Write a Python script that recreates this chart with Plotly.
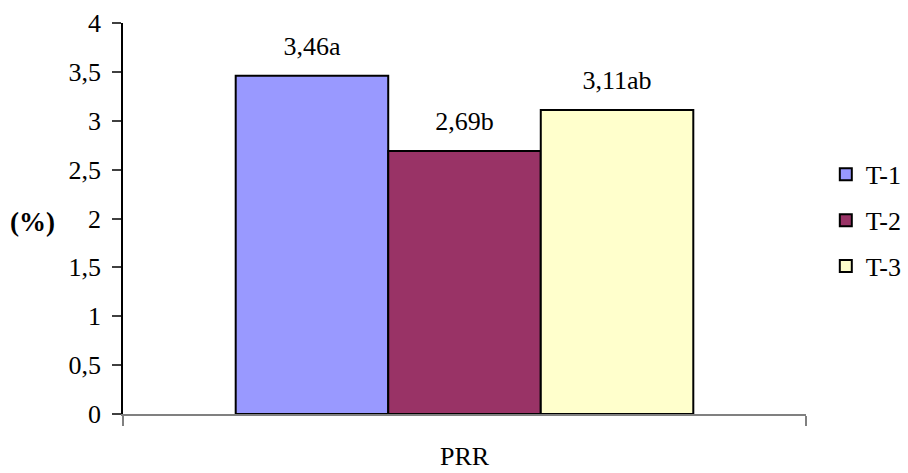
import plotly.graph_objects as go

# Data
category = ["PRR"]
treatments = ["T-1", "T-2", "T-3"]
values = [3.46, 2.69, 3.11]
letters = ["a", "b", "ab"]
colors = ["#9999FF", "#993366", "#FFFFCC"]

y_ticks = [0, 0.5, 1, 1.5, 2, 2.5, 3, 3.5, 4]

FONT = "Liberation Serif, Times New Roman, serif"
SIZE = 26

fig = go.Figure()
for name, val, col in zip(treatments, values, colors):
    fig.add_trace(go.Bar(
        x=category, y=[val], name=name,
        marker=dict(color=col, line=dict(color="black", width=2)),
        offsetgroup=name, legendgroup=name,
    ))

# value labels, grouped the same way as the bars and lifted above each top
for name, val, let in zip(treatments, values, letters):
    label = f"{val:.2f}".replace(".", ",") + let
    fig.add_trace(go.Scatter(
        x=category, y=[val], mode="markers+text", text=[label],
        textposition="top center",
        textfont=dict(family=FONT, size=SIZE, color="black"),
        marker=dict(size=22, opacity=0),
        offsetgroup=name, showlegend=False, hoverinfo="skip",
        cliponaxis=False,
    ))

fig.update_layout(
    width=908, height=473,
    margin=dict(l=123, r=102, t=23, b=59, autoexpand=False),
    paper_bgcolor="white", plot_bgcolor="white",
    separators=",.",
    barmode="group", bargap=0.33, bargroupgap=0,
    scattermode="group", scattergap=0.33,
    font=dict(family=FONT, size=SIZE, color="black"),
    showlegend=True,
    legend=dict(
        x=1.029, y=0.495, xanchor="left", yanchor="middle",
        font=dict(family=FONT, size=SIZE, color="black"),
        tracegroupgap=9, bgcolor="rgba(0,0,0,0)",
    ),
    xaxis=dict(
        showline=True, linecolor="#808080", linewidth=2,
        ticks="outside", tickson="boundaries", ticklen=10, tickcolor="#808080",
        tickwidth=2, ticklabelstandoff=18,
        showgrid=False, zeroline=False,
        tickfont=dict(family=FONT, size=SIZE, color="black"),
    ),
    yaxis=dict(
        range=[0, 4], tickvals=y_ticks,
        showline=True, linecolor="black", linewidth=1.5,
        ticks="outside", ticklen=9, tickcolor="#404040", tickwidth=1.5,
        showgrid=False, zeroline=False,
        tickfont=dict(family=FONT, size=SIZE, color="black"),
        ticklabelstandoff=6,
    ),
    annotations=[dict(
        text="<b>(%)</b>", xref="paper", yref="paper",
        x=-0.132, y=0.49, xanchor="center", yanchor="middle",
        showarrow=False, font=dict(family=FONT, size=27, color="black"),
    )],
)

fig.write_html("out.html")
